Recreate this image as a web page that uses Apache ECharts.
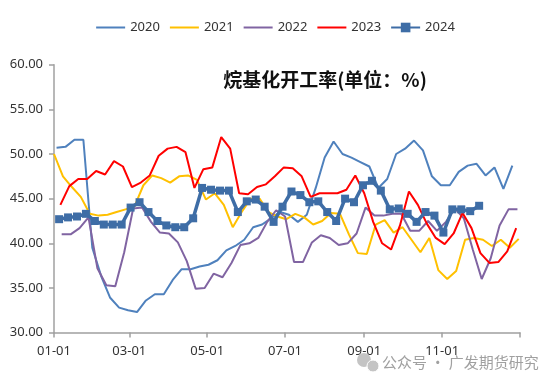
<!DOCTYPE html>
<html>
<head>
<meta charset="utf-8">
<script src="https://cdn.jsdelivr.net/npm/echarts@6/dist/echarts.min.js"></script>
<style>html,body{margin:0;padding:0;background:#fff}#c{width:550px;height:385px}</style>
</head>
<body>
<div id="c"></div>
<script>
// x-axis tick labels (month starts) and axis end
const tickLabels = ['01-01', '03-01', '05-01', '07-01', '09-01', '11-01'];
const axisEndLabel = '12-31';
const years = ['2020', '2021', '2022', '2023', '2024'];
// first weekly observation date of each year
const firstDates = ['01-03', '01-01', '01-07', '01-06', '01-05'];

const v2020 = [50.7, 50.8, 51.6, 51.6, 39.5, 36.3, 33.9, 32.8, 32.5, 32.3, 33.6, 34.3, 34.3, 35.9, 37.1, 37.1, 37.4, 37.6, 38.1, 39.2, 39.7, 40.4, 41.8, 42.1, 42.8, 43.5, 43.2, 42.4, 43.2, 46.2, 49.6, 51.4, 50.0, 49.6, 49.1, 48.6, 46.2, 47.2, 50.0, 50.6, 51.5, 50.4, 47.5, 46.5, 46.5, 48.0, 48.7, 48.9, 47.6, 48.5, 46.1, 48.7];
const v2021 = [50.0, 47.5, 46.3, 45.2, 43.3, 43.1, 43.2, 43.5, 43.8, 44.1, 46.5, 47.6, 47.3, 46.8, 47.5, 47.6, 47.1, 44.9, 45.6, 44.3, 41.8, 43.5, 45.0, 45.0, 43.5, 43.0, 42.7, 43.3, 42.9, 42.1, 42.5, 43.4, 43.3, 41.0, 38.9, 38.8, 42.1, 42.6, 41.2, 41.8, 40.4, 39.0, 40.6, 37.0, 36.0, 36.9, 40.4, 40.6, 40.4, 39.7, 40.4, 39.5, 40.5];
const v2022 = [41.0, 41.0, 41.7, 42.9, 37.2, 35.3, 35.2, 39.0, 43.9, 44.0, 42.4, 41.2, 41.1, 40.1, 38.0, 34.9, 35.0, 36.6, 36.2, 37.8, 39.8, 40.0, 40.6, 42.4, 43.7, 43.0, 37.9, 37.9, 40.1, 40.9, 40.6, 39.8, 40.0, 41.1, 44.0, 43.1, 43.1, 43.3, 43.3, 41.4, 41.4, 42.5, 41.4, 42.4, 43.9, 42.8, 39.3, 36.0, 38.3, 42.0, 43.8, 43.8];
const v2023 = [44.3, 46.4, 47.2, 47.2, 48.1, 47.7, 49.2, 48.6, 46.3, 46.8, 47.6, 49.8, 50.6, 50.8, 50.2, 46.2, 48.3, 48.5, 51.9, 50.6, 45.6, 45.5, 46.3, 46.6, 47.5, 48.5, 48.4, 47.5, 45.2, 45.6, 45.6, 45.6, 46.0, 47.6, 45.6, 42.4, 40.0, 39.3, 42.0, 45.8, 44.3, 42.2, 40.6, 39.9, 41.1, 43.4, 41.7, 38.9, 37.8, 37.9, 39.1, 41.7];
const v2024 = [42.7, 42.9, 43.0, 43.3, 42.5, 42.1, 42.1, 42.1, 44.0, 44.6, 43.5, 42.5, 42.0, 41.8, 41.8, 42.8, 46.2, 46.0, 45.9, 45.9, 43.5, 44.7, 44.9, 44.1, 42.4, 44.1, 45.8, 45.4, 44.6, 44.7, 43.5, 42.5, 45.0, 44.6, 46.5, 47.0, 45.9, 43.8, 43.9, 43.3, 42.4, 43.5, 43.1, 41.2, 43.8, 43.8, 43.6, 44.2];

const colors = ['#4F81BD', '#FFC000', '#8064A2', '#FF0000', '#3E6DA6'];
const valueSets = [v2020, v2021, v2022, v2023, v2024];

function dayOfYear(md) {
  const p = md.split('-').map(Number);
  return Math.round((Date.UTC(2023, p[0] - 1, p[1]) - Date.UTC(2023, 0, 1)) / 86400000);
}
const tickDays = tickLabels.map(dayOfYear);
const endDay = dayOfYear(axisEndLabel) + 1;

const series = years.map(function (y, k) {
  const start = dayOfYear(firstDates[k]);
  const is24 = k === 4;
  return {
    name: y,
    type: 'line',
    data: valueSets[k].map(function (v, i) { return [start + 7 * i, v]; }),
    symbol: is24 ? 'rect' : 'none',
    symbolSize: 8,
    showSymbol: is24,
    lineStyle: { width: is24 ? 3.5 : 2, color: colors[k] },
    itemStyle: { color: colors[k] },
    z: 2 + k
  };
});

const legendData = years.map(function (y, k) {
  return k === 4 ? { name: y } : { name: y, itemStyle: { opacity: 0 } };
});

const chart = echarts.init(document.getElementById('c'), null, { renderer: 'canvas' });
chart.setOption({
  animation: false,
  legend: {
    top: 16,
    left: 'center',
    itemWidth: 29,
    itemHeight: 12,
    itemGap: 9,
    textStyle: { fontSize: 13, color: '#333', fontFamily: 'Noto Sans' },
    data: legendData
  },
  grid: { left: 54, right: 30, top: 64.7, bottom: 52.4, containLabel: false },
  xAxis: {
    type: 'value',
    min: 0,
    max: endDay,
    axisLine: { lineStyle: { color: '#A0A0A0', width: 1.5 } },
    axisTick: { show: true, length: 5, lineStyle: { color: '#A0A0A0', width: 1.5 }, customValues: tickDays.concat([endDay]) },
    axisLabel: {
      customValues: tickDays,
      margin: 12,
      fontSize: 13,
      color: '#333',
      fontFamily: 'Noto Sans',
      formatter: function (v) { const i = tickDays.indexOf(v); return i >= 0 ? tickLabels[i] : ''; }
    },
    splitLine: { show: false }
  },
  yAxis: {
    type: 'value',
    min: 30,
    max: 60,
    interval: 5,
    axisLine: { show: true, lineStyle: { color: '#A0A0A0', width: 1.5 } },
    axisTick: { show: true, length: 5, lineStyle: { color: '#A0A0A0', width: 1.5 } },
    axisLabel: { margin: 11, fontSize: 13, color: '#333', fontFamily: 'Noto Sans', formatter: function (v) { return v.toFixed(2); } },
    splitLine: { show: false }
  },
  graphic: [
    {
      type: 'text', x: 325, y: 80, z: 100,
      style: { text: '烷基化开工率(单位：%)', textAlign: 'center', textVerticalAlign: 'middle', font: 'bold 19px "Noto Sans CJK SC"', fill: '#111' }
    },
    { type: 'circle', shape: { cx: 364, cy: 360, r: 7 }, style: { fill: '#c4c4c4' }, z: 100 },
    { type: 'circle', shape: { cx: 373, cy: 366, r: 6 }, style: { fill: '#c4c4c4', stroke: '#fff', lineWidth: 1 }, z: 101 },
    {
      type: 'text', x: 382, y: 362, z: 100,
      style: { text: '公众号 · 广发期货研究', textAlign: 'left', textVerticalAlign: 'middle', font: '15px "Noto Sans CJK SC"', fill: '#a0a0a0' }
    }
  ],
  series: series
});
</script>
</body>
</html>
